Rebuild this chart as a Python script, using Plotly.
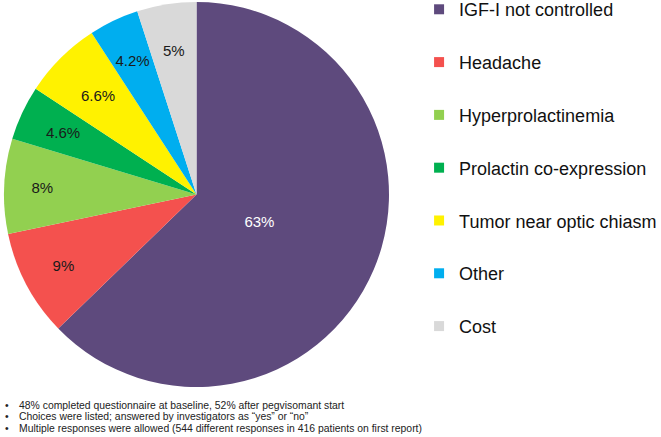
import plotly.graph_objects as go

labels = ["IGF-I not controlled", "Headache", "Hyperprolactinemia",
          "Prolactin co-expression", "Tumor near optic chiasm", "Other", "Cost"]
values = [63, 9, 8, 4.6, 6.6, 4.2, 5]
colors = ["#5E4A7D", "#F4514E", "#92D050", "#00B050", "#FFF200", "#00AEEF", "#D9D9D9"]
text_colors = ["#FFFFFF", "#1A1A1A", "#1A1A1A", "#1A1A1A", "#1A1A1A", "#1A1A1A", "#1A1A1A"]
pct_text = [f"{v:g}%" for v in values]

footnotes = [
    "48% completed questionnaire at baseline, 52% after pegvisomant start",
    "Choices were listed; answered by investigators as \u201cyes\u201d or \u201cno\u201d",
    "Multiple responses were allowed (544 different responses in 416 patients on first report)",
]

W, H = 661, 437
FONT = "Liberation Sans, Arial, sans-serif"
CX, CY, R = 196.5, 194.5, 192.5   # pie centre / radius in pixels


def domain(scale):
    r = R * scale
    return dict(x=[(CX - r) / W, (CX + r) / W], y=[(H - CY - r) / H, (H - CY + r) / H])


def pie(text_idx, scale, show_colors):
    txt = [t if i in text_idx else "" for i, t in enumerate(pct_text)]
    return go.Pie(
        labels=labels, values=values, text=txt, textinfo="text",
        sort=False, direction="clockwise", rotation=0,
        marker=dict(colors=colors if show_colors else ["rgba(0,0,0,0)"] * len(values),
                    line=dict(width=0)),
        textposition="inside", insidetextorientation="horizontal",
        insidetextfont=dict(family=FONT, size=15, color=text_colors),
        domain=domain(scale), showlegend=False,
        hoverinfo="label+text" if show_colors else "skip",
    )


fig = go.Figure()
fig.add_trace(pie({1, 2}, 1.0, True))          # coloured pie, outer labels
fig.add_trace(pie({3, 4, 5, 6}, 0.875, False))  # labels of the thin slices
fig.add_trace(pie({0}, 0.71, False))            # label of the large slice

# legend entries (one group per category so they can be spaced apart)
for lab, col in zip(labels, colors):
    fig.add_trace(go.Scatter(
        x=[None], y=[None], mode="markers", name=lab, legendgroup=lab,
        marker=dict(symbol="square", size=10, color=col), showlegend=True,
    ))

for i, t in enumerate(footnotes):
    yy = 1 - (405 + i * 11.5) / H
    fig.add_annotation(x=3 / W, y=yy, xref="paper", yref="paper", text="\u2022",
                       showarrow=False, xanchor="left", yanchor="middle",
                       font=dict(family=FONT, size=10.4, color="#222"))
    fig.add_annotation(x=17 / W, y=yy, xref="paper", yref="paper", text=t,
                       showarrow=False, xanchor="left", yanchor="middle",
                       font=dict(family=FONT, size=10.4, color="#222"))

fig.update_layout(
    width=W, height=H, margin=dict(l=0, r=0, t=0, b=0, autoexpand=False),
    paper_bgcolor="white", plot_bgcolor="white",
    xaxis=dict(visible=False), yaxis=dict(visible=False),
    uniformtext=dict(minsize=15, mode="show"),
    legend=dict(x=0.634, y=1.0204, xanchor="left", yanchor="top",
                traceorder="grouped", tracegroupgap=26.4, maxheight=437,
                font=dict(family=FONT, size=18, color="#111111"),
                bgcolor="rgba(0,0,0,0)"),
)
fig.write_html("out.html", config={"displayModeBar": False},
               post_script="document.body.style.margin='0';")
